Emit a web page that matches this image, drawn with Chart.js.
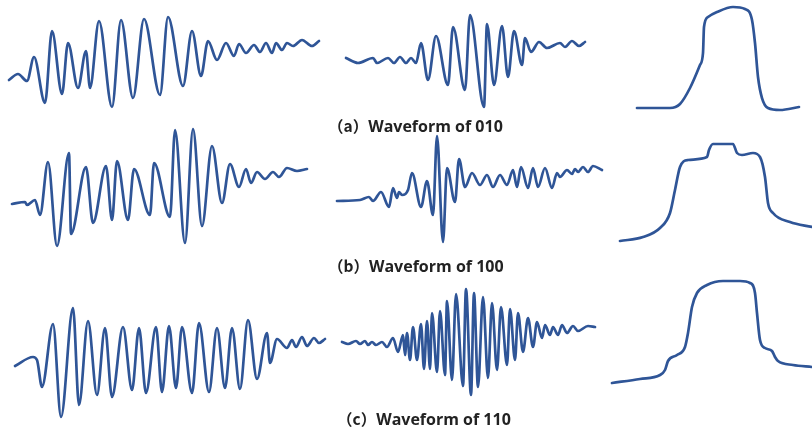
<!DOCTYPE html>
<html lang="en">
<head>
  <meta charset="UTF-8">
  <title>Waveforms of 010 / 100 / 110</title>
  <script src="https://cdn.jsdelivr.net/npm/chart.js"></script>
  <style>
    body {
      margin: 0;
      background: #fff;
      width: 812px;
      height: 430px;
      position: relative;
      overflow: hidden;
    }
    canvas {
      position: absolute;
    }
    .cap {
      position: absolute;
      font-family: "Open Sans", "Noto Sans CJK SC", sans-serif;
      font-weight: 700;
      font-size: 16px;
      color: #222;
      white-space: nowrap;
      line-height: 18px;
    }
    .cap span {
      font-family: "Noto Sans CJK SC", sans-serif;
      font-size: 15.5px;
    }
  </style>
</head>
<body>
  <canvas id="a1"></canvas>
  <canvas id="a2"></canvas>
  <canvas id="a3"></canvas>
  <canvas id="b1"></canvas>
  <canvas id="b2"></canvas>
  <canvas id="b3"></canvas>
  <canvas id="c1"></canvas>
  <canvas id="c2"></canvas>
  <canvas id="c3"></canvas>
  <div class="cap" style="left:328px; top:116px;"><span>（a）</span>Waveform of 010</div>
  <div class="cap" style="left:328px; top:256px;"><span>（b）</span>Waveform of 100</div>
  <div class="cap" style="left:337px; top:409px;"><span>（c）</span>Waveform of 110</div>

  <script>
    // each wave: [time, amplitude] at the turning points
    const wave010Raw = [[9,-20],[18,-14],[27,-21],[34,3],[45,-43],[52,29],[62,-34],[68,17],[78,-28],[86,9],[90,-28],
      [99,39],[112,-47],[121,40],[133,-38],[144,41],[160,-35],[168,43],[183,-26],[192,29],[201,-16],[208,19],
      [217,0],[226,17],[234,4],[239,16],[246,7],[254,15],[260,8],[266,17],[272,7],[276,17],[282,10],[287,17],
      [293,14],[302,20],[312,14],[319,19]];
    const wave010Filt = [[11,2],[23,-3],[38,2],[42,-3],[53,2],[59,-3],[65,3],[71,-3],[76,2],[81,-3],[86,17],[93,-20],
      [101,24],[113,-25],[118,33],[130,-30],[135,45],[149,-47],[152,36],[159,-25],[167,34],[173,-17],[179,29],
      [187,-5],[190,22],[196,8],[204,18],[212,12],[225,17],[230,13],[237,19],[244,14],[250,18]];
    const wave010Env = [[27,-48],[60,-48],[70,-44],[80,-28],[90,-5],[93,7],[94,33],[98,43],[107,48],[123,53],
      [135,51],[142,40],[145,17],[148,-17],[152,-38],[158,-48],[170,-50],[189,-47]];

    const wave100Raw = [[12,-14],[25,-12],[27,-15],[35,-10],[40,-25],[48,28],[57,-56],[69,37],[71,-44],[86,23],
      [93,-33],[106,24],[112,-30],[117,29],[128,-30],[134,21],[150,-25],[154,27],[170,-27],[175,60],[185,-53],
      [193,61],[202,-36],[212,44],[222,-13],[230,26],[239,3],[246,21],[251,7],[257,18],[265,11],[273,18],
      [279,13],[287,22],[297,19],[307,21]];
    const wave100Filt = [[2,-11],[25,-10],[34,-7],[38,-11],[46,-2],[54,-17],[58,2],[62,-8],[64,-2],[67,-5],[73,0],
      [77,17],[86,-17],[92,9],[98,-25],[102,54],[108,-52],[112,22],[120,-12],[124,31],[130,3],[137,17],[145,5],
      [152,15],[158,3],[165,15],[172,5],[178,20],[182,3],[186,23],[193,2],[198,22],[203,3],[210,22],[217,2],
      [222,17],[225,13],[232,20],[237,16],[240,21],[243,18],[248,23],[253,18],[258,24],[267,20]];
    const wave100Env = [[10,-51],[33,-47],[50,-38],[60,-23],[65,0],[70,23],[78,30],[97,33],[99,40],[103,46],
      [123,46],[127,37],[132,35],[143,37],[150,33],[155,13],[158,-13],[163,-23],[180,-32],[202,-37]];

    const wave110Raw = [[15,-11],[33,-2],[37,-5],[42,-32],[53,31],[61,-62],[73,47],[79,-50],[88,34],[97,-40],
      [105,27],[112,-42],[123,28],[132,-35],[139,27],[146,-38],[156,28],[162,-37],[169,29],[176,-33],[182,28],
      [192,-38],[199,32],[209,-37],[217,27],[225,-33],[232,27],[240,-34],[248,35],[257,-24],[267,22],[270,-8],
      [277,16],[287,7],[292,15],[296,8],[302,18],[307,9],[314,17],[319,12],[325,16]];
    const wave110Filt = [[7,13],[13,11],[21,14],[25,11],[30,14],[33,10],[37,13],[41,10],[47,13],[52,8],[58,17],
      [63,3],[68,20],[70,0],[72,22],[75,-5],[78,28],[82,-5],[86,31],[89,-14],[92,34],[95,-14],[97,42],[102,-17],
      [105,44],[110,-20],[112,54],[117,-25],[121,61],[128,-31],[131,66],[136,-40],[139,62],[143,-32],[148,58],
      [153,-23],[157,52],[162,-15],[166,48],[172,-10],[175,46],[180,-5],[183,42],[188,3],[193,37],[198,8],
      [202,33],[207,17],[210,30],[215,20],[218,28],[223,20],[227,30],[232,22],[238,29],[243,24],[253,29],[260,28]];
    const wave110Env = [[2,-28],[30,-24],[50,-20],[55,-15],[58,-6],[67,0],[75,8],[78,22],[82,48],[87,62],[97,70],
      [113,74],[130,74],[140,72],[145,62],[147,42],[150,15],[155,7],[162,4],[165,-2],[168,-6],[183,-10],[202,-12]];

    const lineColor = '#2f5597';

    // panel boxes: left, top, width, height, amplitude range
    const cols = [[0, 335], [335, 275], [610, 202]];
    const rows = [[0, 120, -60, 60], [120, 135, -65, 70], [272, 158, -75, 83]];

    function drawWave(id, pts, col, row) {
      const el = document.getElementById(id);
      el.width = col[1];
      el.height = row[1];
      el.style.left = col[0] + 'px';
      el.style.top = row[0] + 'px';
      new Chart(el, {
        type: 'line',
        data: {
          datasets: [{
            data: pts.map(p => ({ x: p[0], y: p[1] })),
            borderColor: lineColor,
            borderWidth: 2.7,
            pointRadius: 0,
            cubicInterpolationMode: 'monotone',
            borderCapStyle: 'round',
            borderJoinStyle: 'round',
            clip: false
          }]
        },
        options: {
          responsive: false,
          animation: false,
          events: [],
          layout: { padding: 0 },
          scales: {
            x: { type: 'linear', display: false, min: 0, max: col[1] },
            y: { display: false, min: row[2], max: row[3] }
          },
          plugins: {
            legend: { display: false },
            tooltip: { enabled: false }
          }
        }
      });
    }

    drawWave('a1', wave010Raw, cols[0], rows[0]);
    drawWave('a2', wave010Filt, cols[1], rows[0]);
    drawWave('a3', wave010Env, cols[2], rows[0]);
    drawWave('b1', wave100Raw, cols[0], rows[1]);
    drawWave('b2', wave100Filt, cols[1], rows[1]);
    drawWave('b3', wave100Env, cols[2], rows[1]);
    drawWave('c1', wave110Raw, cols[0], rows[2]);
    drawWave('c2', wave110Filt, cols[1], rows[2]);
    drawWave('c3', wave110Env, cols[2], rows[2]);
  </script>
</body>
</html>
